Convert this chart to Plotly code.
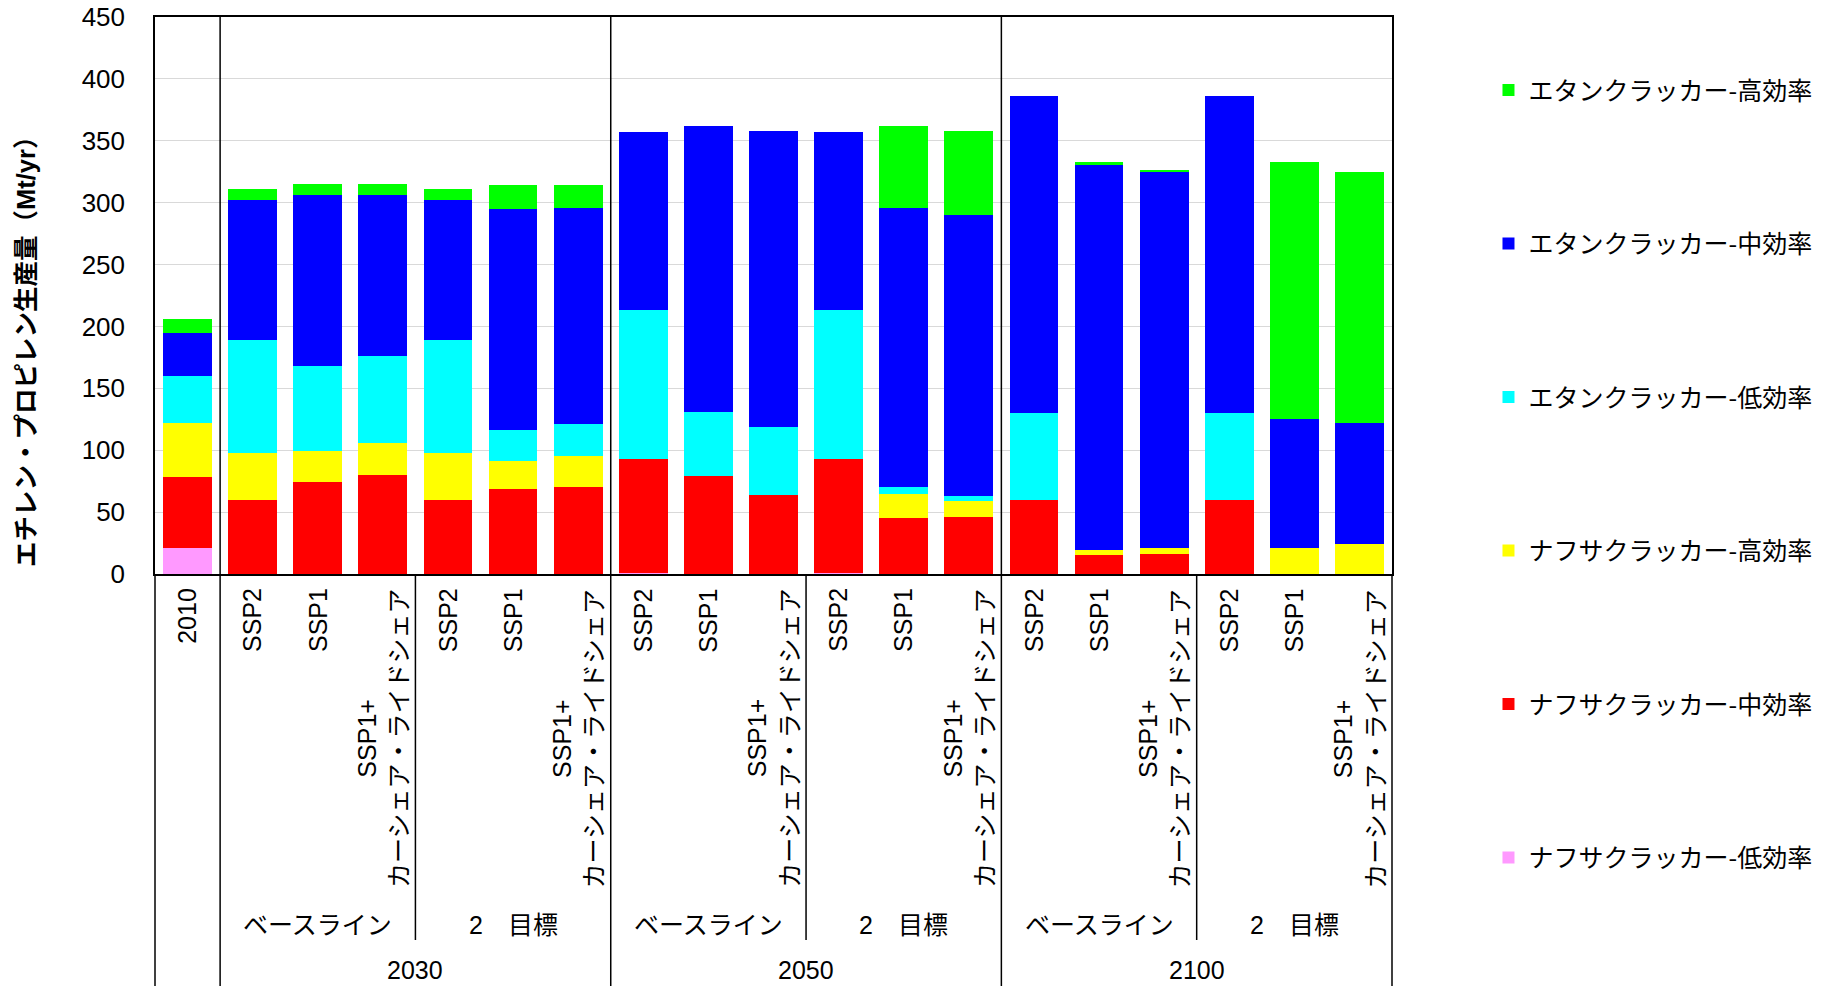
import plotly.graph_objects as go

# ---------------- data ----------------
scenario_labels = ["2010",
                   "SSP2", "SSP1", "SSP1+<br>カーシェア・ライドシェア",
                   "SSP2", "SSP1", "SSP1+<br>カーシェア・ライドシェア",
                   "SSP2", "SSP1", "SSP1+<br>カーシェア・ライドシェア",
                   "SSP2", "SSP1", "SSP1+<br>カーシェア・ライドシェア",
                   "SSP2", "SSP1", "SSP1+<br>カーシェア・ライドシェア",
                   "SSP2", "SSP1", "SSP1+<br>カーシェア・ライドシェア"]
policy_labels = ["ベースライン", "2　目標", "ベースライン", "2　目標", "ベースライン", "2　目標"]
policy_centers = [2, 5, 8, 11, 14, 17]
year_labels = ["2030", "2050", "2100"]
year_centers = [3.5, 9.5, 15.5]
year_dividers = [0.5, 6.5, 12.5]
policy_dividers = [3.5, 9.5, 15.5]

series_names = ["ナフサクラッカー-低効率", "ナフサクラッカー-中効率", "ナフサクラッカー-高効率",
                "エタンクラッカー-低効率", "エタンクラッカー-中効率", "エタンクラッカー-高効率"]
naphtha_low = [21, 0, 0, 0, 0, 0, 0, 1, 0, 0, 1, 0, 0, 0, 0, 0, 0, 0, 0]
naphtha_mid = [57, 60, 74, 80, 60, 69, 70, 92, 79, 64, 92, 45, 46, 60, 15, 16, 60, 0, 0]
naphtha_high = [44, 38, 25, 26, 38, 22, 25, 0, 0, 0, 0, 20, 13, 0, 4, 5, 0, 21, 24]
ethane_low = [38, 91, 69, 70, 91, 25, 26, 120, 52, 55, 120, 5, 4, 70, 0, 0, 70, 0, 0]
ethane_mid = [35, 113, 138, 130, 113, 179, 175, 144, 231, 239, 144, 226, 227, 256, 312, 304, 256, 104, 98]
ethane_high = [11, 9, 9, 9, 9, 19, 18, 0, 0, 0, 0, 66, 68, 0, 1.5, 1.5, 0, 208, 203]
series_values = [naphtha_low, naphtha_mid, naphtha_high, ethane_low, ethane_mid, ethane_high]
series_colors = ["#FF99FF", "#FF0000", "#FFFF00", "#00FFFF", "#0000FF", "#00FF00"]

y_title = "エチレン・プロピレン生産量（Mt/yr）"

# ---------------- figure ----------------
FONT = "Liberation Sans, Arial, Noto Sans CJK JP, sans-serif"
NARROW = "Liberation Sans Narrow, Liberation Sans, Noto Sans CJK JP, sans-serif"
xs = list(range(len(scenario_labels)))

fig = go.Figure()
for i, (name, vals, col) in enumerate(zip(series_names, series_values, series_colors)):
    fig.add_trace(go.Bar(x=xs, y=vals, name=name, marker=dict(color=col, line=dict(width=0)),
                         legendgroup=f"g{i}", legendrank=100 - i))

W, H = 1823, 986
ml, mr, mt, mb = 155, 431, 17, 412
ph = H - mt - mb
bottom_paper = -mb / ph

fig.update_layout(
    width=W, height=H,
    margin=dict(l=ml, r=mr, t=mt, b=mb, autoexpand=False),
    paper_bgcolor="white", plot_bgcolor="white",
    barmode="stack", bargap=0.25,
    font=dict(family=FONT, color="black"),
    showlegend=True,
    legend=dict(x=1.078, y=0.91, xanchor="left", yanchor="top",
                font=dict(size=25, family="Noto Sans CJK JP, sans-serif"),
                tracegroupgap=118, maxheight=950, bgcolor="rgba(0,0,0,0)"),
    xaxis=dict(range=[-0.5, len(xs) - 0.5], showticklabels=False, ticks="",
               showgrid=False, zeroline=False, showline=True, linecolor="black",
               linewidth=1.5, mirror=True, automargin=False),
    yaxis=dict(range=[0, 450], dtick=50, showgrid=True, gridcolor="#d9d9d9", gridwidth=1,
               zeroline=False, showline=True, linecolor="black", linewidth=1.5, mirror=True,
               ticks="", ticklabelstandoff=23, tickfont=dict(size=26, family=FONT),
               automargin=False),
)

shapes = []
for xd in year_dividers:
    shapes.append(dict(type="line", xref="x", yref="paper", x0=xd, x1=xd, y0=bottom_paper, y1=1,
                       line=dict(color="black", width=1.5)))
for xd in policy_dividers:
    shapes.append(dict(type="line", xref="x", yref="paper", x0=xd, x1=xd, y0=-(940 - (H - mb)) / ph, y1=0,
                       line=dict(color="black", width=1.5)))
for xp in [0, 1]:
    shapes.append(dict(type="line", xref="paper", yref="paper", x0=xp, x1=xp, y0=bottom_paper, y1=0,
                       line=dict(color="black", width=1.5)))
fig.update_layout(shapes=shapes)

ann = []
for x, lab in zip(xs, scenario_labels):
    ann.append(dict(x=x, y=-0.022, xref="x", yref="paper", text=lab, showarrow=False,
                    textangle=-90, xanchor="center", yanchor="top", align="center",
                    font=dict(size=25, family=FONT)))
for x, lab in zip(policy_centers, policy_labels):
    ann.append(dict(x=x, y=-(925 - (H - mb)) / ph, xref="x", yref="paper", text=lab, showarrow=False,
                    xanchor="center", yanchor="middle", font=dict(size=25, family=NARROW)))
for x, lab in zip(year_centers, year_labels):
    ann.append(dict(x=x, y=-(970 - (H - mb)) / ph, xref="x", yref="paper", text=lab, showarrow=False,
                    xanchor="center", yanchor="middle", font=dict(size=25, family=NARROW)))
ann.append(dict(x=-(ml - 26) / (W - ml - mr), y=(H - mb - 346) / ph, xref="paper", yref="paper",
                text=f"<b>{y_title}</b>", showarrow=False, textangle=-90,
                xanchor="center", yanchor="middle", font=dict(size=25.5, family=FONT)))
fig.update_layout(annotations=ann)

fig.write_html("out.html")
